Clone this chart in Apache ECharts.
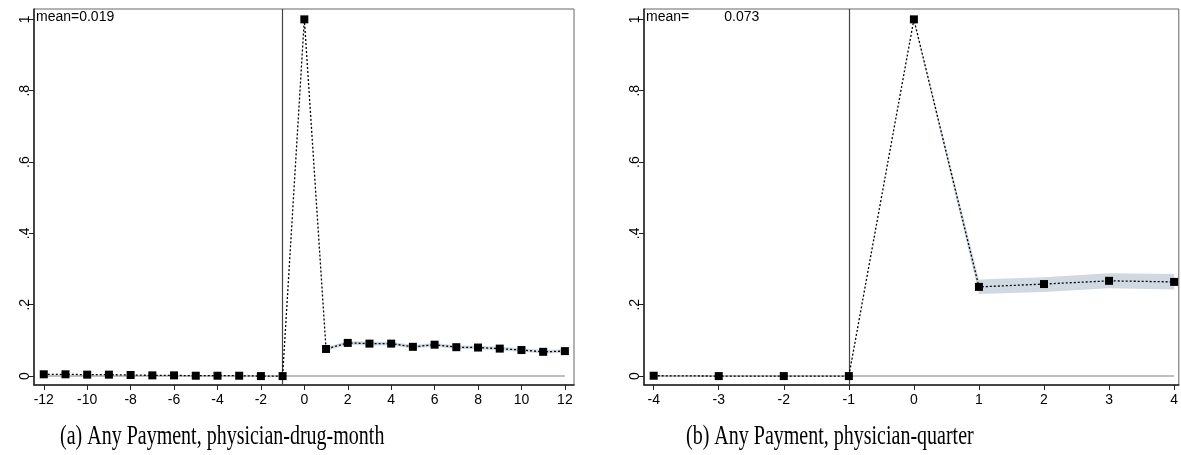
<!DOCTYPE html>
<html>
<head>
<meta charset="utf-8">
<script src="https://cdn.jsdelivr.net/npm/echarts@6/dist/echarts.min.js"></script>
<style>html,body{margin:0;padding:0;background:#fff}#c{width:1181px;height:455px}</style>
</head>
<body>
<div id="c"></div>
<script>
// Panel (a): physician-drug-month
const xA = [-12,-11,-10,-9,-8,-7,-6,-5,-4,-3,-2,-1,0,1,2,3,4,5,6,7,8,9,10,11,12];
const valA = [0.005,0.005,0.004,0.004,0.003,0.002,0.002,0.001,0.001,0.001,0.0,0.0,1.0,0.076,0.093,0.091,0.091,0.082,0.088,0.081,0.080,0.077,0.073,0.068,0.070];
const ciXA = [0,1,2,3,4,5,6,7,8,9,10,11,12];
const ciLoA = [0.998,0.071,0.088,0.086,0.086,0.077,0.083,0.076,0.075,0.072,0.068,0.063,0.065];
const ciHiA = [1.0,0.081,0.098,0.096,0.096,0.087,0.093,0.086,0.085,0.082,0.078,0.073,0.075];
// Panel (b): physician-quarter
const xB = [-4,-3,-2,-1,0,1,2,3,4];
const valB = [0.001,0.0,0.0,0.0,1.0,0.250,0.258,0.267,0.264];
const ciXB = [0,1,2,3,4];
const ciLoB = [0.995,0.230,0.236,0.246,0.243];
const ciHiB = [1.0,0.271,0.277,0.288,0.286];
const yTicks = [0,0.2,0.4,0.6,0.8,1];
const yTickLabels = ['0','.2','.4','.6','.8','1'];
const xTicksA = [-12,-10,-8,-6,-4,-2,0,2,4,6,8,10,12];
const xTicksB = [-4,-3,-2,-1,0,1,2,3,4];
const eventLine = -1;
const meanA = 'mean=0.019';
const meanB = 'mean=         0.073';
const captionA = '(a) Any Payment, physician-drug-month';
const captionB = '(b) Any Payment, physician-quarter';

const chart = echarts.init(document.getElementById('c'), null, {renderer:'canvas'});
const sans = '"Liberation Sans", Arial, sans-serif';
const serif = '"Liberation Serif", "DejaVu Serif", serif';

function yLabel(v){ const i = yTicks.findIndex(t => Math.abs(t - v) < 1e-6); return i >= 0 ? yTickLabels[i] : ''; }

function xAxisCfg(idx, min, max, ticks){
  return {type:'value', gridIndex:idx, min:min, max:max,
    axisLine:{show:true, onZero:false, lineStyle:{color:'#222', width:1.5}},
    axisTick:{show:true, length:5, customValues:ticks, lineStyle:{color:'#222'}},
    axisLabel:{customValues:ticks, color:'#000', fontFamily:sans, fontSize:14, margin:8},
    splitLine:{show:false}};
}
function yAxisCfg(idx){
  return {type:'value', gridIndex:idx, min:-0.025, max:1.029,
    axisLine:{show:true, onZero:false, lineStyle:{color:'#222', width:1.5}},
    axisTick:{show:true, length:5, customValues:yTicks, lineStyle:{color:'#222'}},
    axisLabel:{customValues:yTicks, rotate:90, color:'#000', fontFamily:sans, fontSize:14, margin:2, formatter:yLabel},
    splitLine:{show:false}};
}
function band(idx, xs, lo, hi){
  return {type:'custom', xAxisIndex:idx, yAxisIndex:idx, silent:true, z:1,
    data:[[0]],
    renderItem:function(params, api){
      const pts = [];
      for (let i=0;i<xs.length;i++) pts.push(api.coord([xs[i], hi[i]]));
      for (let i=xs.length-1;i>=0;i--) pts.push(api.coord([xs[i], lo[i]]));
      return {type:'polygon', shape:{points:pts}, style:{fill:'#d0d9e2'}};
    }};
}
function zeroLine(idx, xs){
  return {type:'line', xAxisIndex:idx, yAxisIndex:idx, silent:true, z:2, symbol:'none',
    data:[[xs[0],0],[xs[xs.length-1],0]], lineStyle:{color:'#aaaaaa', width:1.5},
    markLine:{silent:true, symbol:'none', label:{show:false}, lineStyle:{color:'#444', width:1.2, type:'solid'},
      data:[{xAxis:eventLine}]}};
}
function mainLine(idx, xs, vs){
  return {type:'line', xAxisIndex:idx, yAxisIndex:idx, silent:true, z:5,
    data:xs.map((x,i)=>[x, vs[i]]), symbol:'rect', symbolSize:8,
    itemStyle:{color:'#000'}, lineStyle:{color:'#000', width:1.3, type:[2,2]}};
}

chart.setOption({
  animation:false,
  grid:[
    {left:34, top:9, width:540, height:376, show:true, borderColor:'#666', borderWidth:1},
    {left:644, top:9, width:535, height:376, show:true, borderColor:'#666', borderWidth:1}
  ],
  xAxis:[xAxisCfg(0, -12.45, 12.42, xTicksA), xAxisCfg(1, -4.149, 4.072, xTicksB)],
  yAxis:[yAxisCfg(0), yAxisCfg(1)],
  series:[
    band(0, ciXA, ciLoA, ciHiA), zeroLine(0, xA), mainLine(0, xA, valA),
    band(1, ciXB, ciLoB, ciHiB), zeroLine(1, xB), mainLine(1, xB, valB)
  ],
  graphic:[
    {type:'text', x:36, y:17, style:{text:meanA, font:'14px ' + sans, fill:'#000', verticalAlign:'middle'}},
    {type:'text', x:646, y:17, style:{text:meanB, font:'14px ' + sans, fill:'#000', verticalAlign:'middle'}},
    {type:'text', x:60, y:437, scaleY:1.38, style:{text:captionA, font:'20px ' + serif, fill:'#000', verticalAlign:'middle'}},
    {type:'text', x:686, y:437, scaleY:1.38, style:{text:captionB, font:'20px ' + serif, fill:'#000', verticalAlign:'middle'}}
  ]
});
</script>
</body>
</html>
